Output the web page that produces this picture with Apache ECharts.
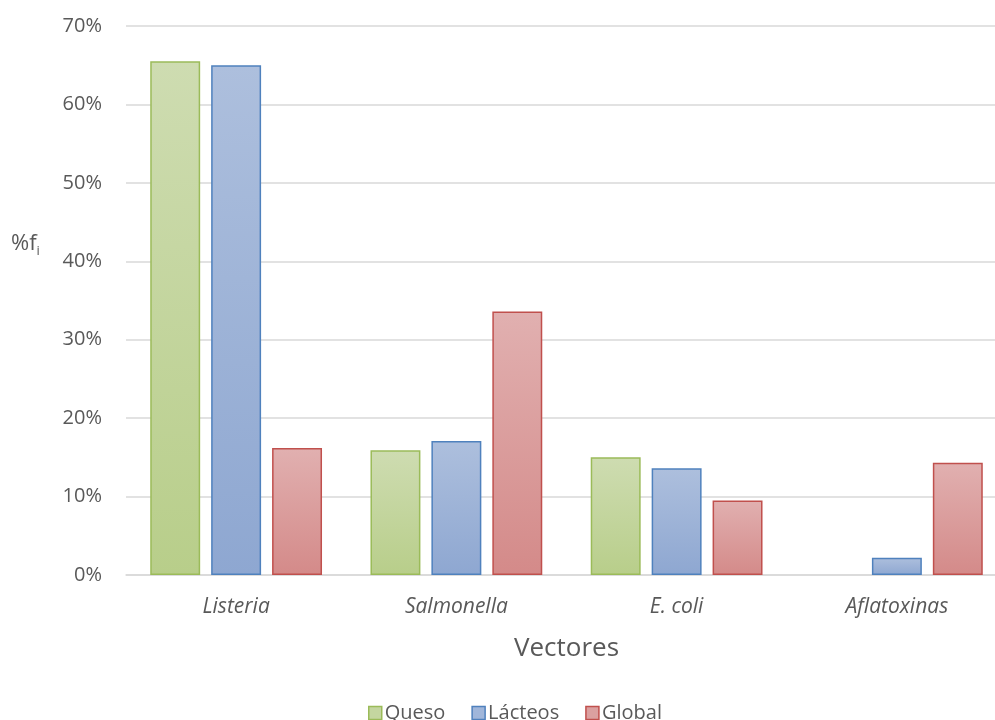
<!DOCTYPE html>
<html>
<head>
<meta charset="utf-8">
<script src="https://cdn.jsdelivr.net/npm/echarts@6/dist/echarts.min.js"></script>
<style>
  html, body { margin: 0; padding: 0; background: #fff; }
  #chart { width: 995px; height: 720px; }
</style>
</head>
<body>
<div id="chart"></div>
<script>
// Categories and percentage values per series
const categories = ['Listeria', 'Salmonella', 'E. coli', 'Aflatoxinas'];
const queso = [65.5, 15.9, 15.0, 0];
const lacteos = [65.0, 17.1, 13.6, 2.2];
const global = [16.2, 33.6, 9.5, 14.3];
const yTicks = [0, 10, 20, 30, 40, 50, 60, 70];

const FONT = '"Open Sans", sans-serif';
const TEXT = '#595959';

function grad(top, bottom) {
  return new echarts.graphic.LinearGradient(0, 0, 0, 1, [
    { offset: 0, color: top },
    { offset: 1, color: bottom }
  ]);
}

const palette = {
  Queso:   { fill: grad('#cedcb1', '#b8ce8a'), border: '#9bbb59', icon: '#c4d6a0' },
  'Lácteos': { fill: grad('#adbfdd', '#8ea7d1'), border: '#4f81bd', icon: '#a0b6da' },
  Global:  { fill: grad('#e1b0b0', '#d48a89'), border: '#c0504d', icon: '#dba0a0' }
};

function makeSeries(name, values) {
  return {
    name: name,
    type: 'bar',
    // a zero-height bar has no visible outline
    data: values.map(v => (v === 0 ? { value: v, itemStyle: { borderWidth: 0 } } : v)),
    barGap: '22%',
    barCategoryGap: '22%',
    itemStyle: {
      color: palette[name].fill,
      borderColor: palette[name].border,
      borderWidth: 1.5
    },
    emphasis: { disabled: true }
  };
}

const chart = echarts.init(document.getElementById('chart'), null, { renderer: 'canvas' });

chart.setOption({
  animation: false,
  backgroundColor: '#ffffff',
  // the plot area runs slightly past the right edge of the canvas
  grid: {
    left: 126, width: 881, top: 26, bottom: 145,
    containLabel: false, outerBoundsMode: 'none'
  },
  legend: {
    left: 368,
    top: 703,
    padding: 0,
    itemWidth: 13,
    itemHeight: 13,
    itemGap: 26,
    icon: 'rect',
    textStyle: { color: TEXT, fontFamily: FONT, fontSize: 20, padding: [0, 0, 0, -2] },
    data: ['Queso', 'Lácteos', 'Global'].map(n => ({
      name: n,
      itemStyle: { color: palette[n].icon, borderColor: palette[n].border, borderWidth: 1.5 }
    }))
  },
  xAxis: {
    type: 'category',
    data: categories,
    name: 'Vectores',
    nameLocation: 'middle',
    nameGap: 61,
    nameTextStyle: { color: TEXT, fontFamily: FONT, fontSize: 26 },
    axisLine: { lineStyle: { color: '#d9d9d9', width: 1.5 } },
    axisTick: { show: false },
    axisLabel: {
      color: TEXT, fontFamily: FONT, fontSize: 21, fontStyle: 'italic', margin: 22
    }
  },
  yAxis: {
    type: 'value',
    min: 0,
    max: 70,
    interval: 10,
    axisLine: { show: false },
    axisTick: { show: false },
    splitLine: { lineStyle: { color: '#d9d9d9', width: 1.5 } },
    axisLabel: {
      color: TEXT, fontFamily: FONT, fontSize: 20, margin: 24,
      formatter: v => (yTicks.includes(v) ? v + '%' : '')
    }
  },
  graphic: [{
    type: 'text',
    left: 11,
    top: 233,
    style: {
      text: '{m|%f}{s|i}',
      rich: {
        m: { fontFamily: FONT, fontSize: 22, fill: TEXT },
        s: { fontFamily: FONT, fontSize: 13, fill: TEXT, padding: [15, 0, 0, 0] }
      }
    }
  }],
  series: [
    makeSeries('Queso', queso),
    makeSeries('Lácteos', lacteos),
    makeSeries('Global', global)
  ]
});
</script>
</body>
</html>
